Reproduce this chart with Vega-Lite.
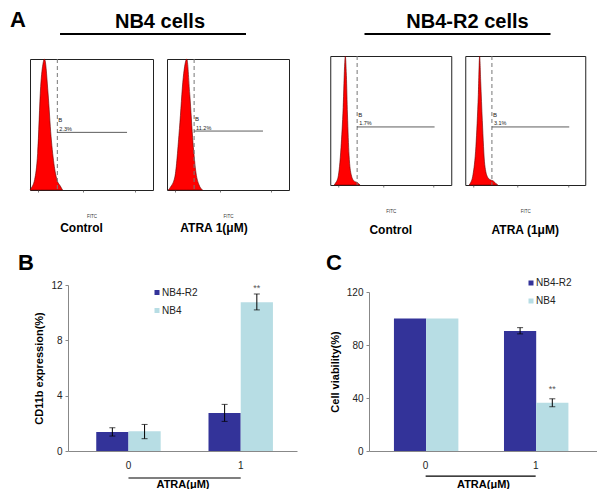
{
  "$schema": "https://vega.github.io/schema/vega-lite/v6.json",
  "padding": {"left": 10, "top": 9, "right": 0, "bottom": 0},
  "config": {
    "font": "Liberation Sans",
    "view": {"stroke": null},
    "legend": {"padding": 0},
    "axis": {"grid": false}
  },
  "datasets": {
    "groups": [{"group": "NB4 cells"}, {"group": "NB4-R2 cells"}],
    "hist": [
      {"panel": "H1", "fitc": -1.0, "count": 0}, {"panel": "H1", "fitc": -0.97, "count": 1}, {"panel": "H1", "fitc": -0.83, "count": 8}, {"panel": "H1", "fitc": -0.72, "count": 28}, {"panel": "H1", "fitc": -0.61, "count": 79}, {"panel": "H1", "fitc": -0.52, "count": 97}, {"panel": "H1", "fitc": -0.48, "count": 100}, {"panel": "H1", "fitc": -0.45, "count": 99}, {"panel": "H1", "fitc": -0.34, "count": 74}, {"panel": "H1", "fitc": -0.23, "count": 41}, {"panel": "H1", "fitc": -0.11, "count": 18}, {"panel": "H1", "fitc": 0.0, "count": 7}, {"panel": "H1", "fitc": 0.11, "count": 3}, {"panel": "H1", "fitc": 0.19, "count": 0},
      {"panel": "H2", "fitc": -0.95, "count": 0}, {"panel": "H2", "fitc": -0.88, "count": 2}, {"panel": "H2", "fitc": -0.71, "count": 10}, {"panel": "H2", "fitc": -0.54, "count": 47}, {"panel": "H2", "fitc": -0.40, "count": 86}, {"panel": "H2", "fitc": -0.27, "count": 100}, {"panel": "H2", "fitc": -0.16, "count": 73}, {"panel": "H2", "fitc": -0.04, "count": 36}, {"panel": "H2", "fitc": 0.07, "count": 13}, {"panel": "H2", "fitc": 0.18, "count": 4}, {"panel": "H2", "fitc": 0.31, "count": 0},
      {"panel": "H3", "fitc": -0.85, "count": 0}, {"panel": "H3", "fitc": -0.82, "count": 1}, {"panel": "H3", "fitc": -0.71, "count": 6}, {"panel": "H3", "fitc": -0.60, "count": 29}, {"panel": "H3", "fitc": -0.52, "count": 60}, {"panel": "H3", "fitc": -0.46, "count": 95}, {"panel": "H3", "fitc": -0.44, "count": 100}, {"panel": "H3", "fitc": -0.40, "count": 85}, {"panel": "H3", "fitc": -0.36, "count": 55}, {"panel": "H3", "fitc": -0.30, "count": 23}, {"panel": "H3", "fitc": -0.22, "count": 8}, {"panel": "H3", "fitc": -0.11, "count": 3}, {"panel": "H3", "fitc": 0.0, "count": 2}, {"panel": "H3", "fitc": 0.11, "count": 0},
      {"panel": "H4", "fitc": -0.85, "count": 0}, {"panel": "H4", "fitc": -0.82, "count": 1}, {"panel": "H4", "fitc": -0.71, "count": 8}, {"panel": "H4", "fitc": -0.60, "count": 30}, {"panel": "H4", "fitc": -0.51, "count": 70}, {"panel": "H4", "fitc": -0.46, "count": 100}, {"panel": "H4", "fitc": -0.42, "count": 80}, {"panel": "H4", "fitc": -0.36, "count": 50}, {"panel": "H4", "fitc": -0.27, "count": 16}, {"panel": "H4", "fitc": -0.16, "count": 6}, {"panel": "H4", "fitc": -0.06, "count": 4}, {"panel": "H4", "fitc": 0.06, "count": 3}, {"panel": "H4", "fitc": 0.16, "count": 1}, {"panel": "H4", "fitc": 0.22, "count": 0}
    ],
    "gates": [
      {"panel": "H1", "gate": "B", "start": 0, "end": 2.55, "level": 44, "pct": "2.3%"},
      {"panel": "H2", "gate": "B", "start": 0, "end": 2.54, "level": 45, "pct": "11.2%"},
      {"panel": "H3", "gate": "B", "start": 0, "end": 2.88, "level": 45, "pct": "1.7%"},
      {"panel": "H4", "gate": "B", "start": 0, "end": 2.9, "level": 45, "pct": "3.1%"}
    ],
    "cd11b": [
      {"atra": "0", "cell": "NB4-R2", "value": 1.37, "lo": 1.08, "hi": 1.68, "sig": ""},
      {"atra": "0", "cell": "NB4", "value": 1.42, "lo": 0.89, "hi": 1.92, "sig": ""},
      {"atra": "1", "cell": "NB4-R2", "value": 2.74, "lo": 2.14, "hi": 3.37, "sig": ""},
      {"atra": "1", "cell": "NB4", "value": 10.75, "lo": 10.2, "hi": 11.35, "sig": "**"}
    ],
    "viability": [
      {"atra": "0", "cell": "NB4-R2", "value": 100, "lo": null, "hi": null, "sig": ""},
      {"atra": "0", "cell": "NB4", "value": 100, "lo": null, "hi": null, "sig": ""},
      {"atra": "1", "cell": "NB4-R2", "value": 90.6, "lo": 88.4, "hi": 93.1, "sig": ""},
      {"atra": "1", "cell": "NB4", "value": 36.4, "lo": 33.4, "hi": 39.4, "sig": "**"}
    ],
    "treatment": [{"from": "0", "to": "1"}]
  },
  "spacing": 14,
  "resolve": {"scale": {"color": "independent"}, "legend": {"color": "independent"}},
  "vconcat": [
    {
      "title": {"text": "A", "anchor": "start", "frame": "group", "dx": -20, "offset": -37, "baseline": "alphabetic", "fontSize": 22, "fontWeight": "bold", "color": "black"},
      "spacing": 39,
      "hconcat": [
        {
          "spacing": 22,
          "vconcat": [
            {
              "width": 216, "height": 2,
              "data": {"name": "groups"},
              "transform": [{"filter": "datum.group === 'NB4 cells'"}],
              "title": {"text": "NB4 cells", "anchor": "middle", "baseline": "alphabetic", "dx": 22, "offset": -15, "fontSize": 20, "fontWeight": "bold", "color": "black"},
              "mark": {"type": "rule", "color": "black", "strokeWidth": 2},
              "encoding": {"x": {"datum": 0.139, "type": "quantitative", "scale": {"domain": [0, 1]}, "axis": null}, "x2": {"datum": 1}}
            },
            {
              "bounds": "flush",
              "spacing": 14,
              "hconcat": [
                {
                  "width": 123, "height": 131,
                  "view": {"stroke": "#222", "strokeWidth": 1},
                  "title": {"text": "Control", "orient": "bottom", "anchor": "middle", "dx": -10, "offset": 14.3, "baseline": "alphabetic", "fontSize": 12, "fontWeight": "bold", "color": "black"},
                  "layer": [
                    {"data": {"name": "hist"}, "transform": [{"filter": "datum.panel === 'H1'"}],
                     "mark": {"type": "area", "color": "#ff0000", "stroke": "#6b0000", "strokeWidth": 0.6, "interpolate": "monotone"},
                     "encoding": {
                       "x": {"field": "fitc", "type": "quantitative", "title": "FITC", "scale": {"domain": [-1, 3.05]},
                             "axis": {"values": [-0.69897, -0.52288, -0.39794, -0.30103, -0.22185, -0.1549, -0.09691, -0.04576, 0, 0.30103, 0.47712, 0.60206, 0.69897, 0.77815, 0.8451, 0.90309, 0.95424, 1, 1.30103, 1.47712, 1.60206, 1.69897, 1.77815, 1.8451, 1.90309, 1.95424, 2, 2.30103, 2.47712, 2.60206, 2.69897, 2.77815, 2.8451, 2.90309, 2.95424, 3],
                                      "labelExpr": "datum.value === 0 ? '10⁰' : datum.value === 1 ? '10¹' : datum.value === 2 ? '10²' : datum.value === 3 ? '10³' : ''",
                                      "domain": false, "tickSize": 2, "tickColor": "#555", "tickWidth": 0.8, "labelFontSize": 4.5, "labelColor": "#333", "labelPadding": 5.5, "labelFlush": false, "labelOverlap": false, "titleFontSize": 4.5, "titleFontWeight": "normal", "titleColor": "#333", "titlePadding": 11}},
                       "y": {"field": "count", "type": "quantitative", "scale": {"domain": [0, 100]}, "axis": null}
                     }},
                    {"data": {"name": "gates"}, "transform": [{"filter": "datum.panel === 'H1'"}],
                     "mark": {"type": "rule", "color": "#777", "strokeDash": [4, 3], "strokeWidth": 1},
                     "encoding": {"x": {"field": "start", "type": "quantitative", "title": "FITC"}}},
                    {"data": {"name": "gates"}, "transform": [{"filter": "datum.panel === 'H1'"}],
                     "mark": {"type": "rule", "color": "#333", "strokeWidth": 0.8},
                     "encoding": {"x": {"field": "start", "type": "quantitative", "title": "FITC"}, "x2": {"field": "end"}, "y": {"field": "level", "type": "quantitative", "axis": null}}},
                    {"data": {"name": "gates"}, "transform": [{"filter": "datum.panel === 'H1'"}],
                     "mark": {"type": "text", "align": "left", "baseline": "alphabetic", "dx": 1, "dy": -10, "fontSize": 6, "color": "#222"},
                     "encoding": {"x": {"field": "start", "type": "quantitative", "title": "FITC"}, "y": {"field": "level", "type": "quantitative", "axis": null}, "text": {"field": "gate"}}},
                    {"data": {"name": "gates"}, "transform": [{"filter": "datum.panel === 'H1'"}],
                     "mark": {"type": "text", "align": "left", "baseline": "alphabetic", "dx": 2, "dy": -1.5, "fontSize": 5.5, "color": "#222"},
                     "encoding": {"x": {"field": "start", "type": "quantitative", "title": "FITC"}, "y": {"field": "level", "type": "quantitative", "axis": null}, "text": {"field": "pct"}}}
                  ]
                },
                {
                  "width": 122, "height": 131,
                  "view": {"stroke": "#222", "strokeWidth": 1},
                  "title": {"text": "ATRA 1(μM)", "orient": "bottom", "anchor": "middle", "dx": -14, "offset": 14.3, "baseline": "alphabetic", "fontSize": 12, "fontWeight": "bold", "color": "black"},
                  "layer": [
                    {"data": {"name": "hist"}, "transform": [{"filter": "datum.panel === 'H2'"}],
                     "mark": {"type": "area", "color": "#ff0000", "stroke": "#6b0000", "strokeWidth": 0.6, "interpolate": "monotone"},
                     "encoding": {
                       "x": {"field": "fitc", "type": "quantitative", "title": "FITC", "scale": {"domain": [-1, 3.05]},
                             "axis": {"values": [-0.69897, -0.52288, -0.39794, -0.30103, -0.22185, -0.1549, -0.09691, -0.04576, 0, 0.30103, 0.47712, 0.60206, 0.69897, 0.77815, 0.8451, 0.90309, 0.95424, 1, 1.30103, 1.47712, 1.60206, 1.69897, 1.77815, 1.8451, 1.90309, 1.95424, 2, 2.30103, 2.47712, 2.60206, 2.69897, 2.77815, 2.8451, 2.90309, 2.95424, 3],
                                      "labelExpr": "datum.value === 0 ? '10⁰' : datum.value === 1 ? '10¹' : datum.value === 2 ? '10²' : datum.value === 3 ? '10³' : ''",
                                      "domain": false, "tickSize": 2, "tickColor": "#555", "tickWidth": 0.8, "labelFontSize": 4.5, "labelColor": "#333", "labelPadding": 5.5, "labelFlush": false, "labelOverlap": false, "titleFontSize": 4.5, "titleFontWeight": "normal", "titleColor": "#333", "titlePadding": 11}},
                       "y": {"field": "count", "type": "quantitative", "scale": {"domain": [0, 100]}, "axis": null}
                     }},
                    {"data": {"name": "gates"}, "transform": [{"filter": "datum.panel === 'H2'"}],
                     "mark": {"type": "rule", "color": "#777", "strokeDash": [4, 3], "strokeWidth": 1},
                     "encoding": {"x": {"field": "start", "type": "quantitative", "title": "FITC"}}},
                    {"data": {"name": "gates"}, "transform": [{"filter": "datum.panel === 'H2'"}],
                     "mark": {"type": "rule", "color": "#333", "strokeWidth": 0.8},
                     "encoding": {"x": {"field": "start", "type": "quantitative", "title": "FITC"}, "x2": {"field": "end"}, "y": {"field": "level", "type": "quantitative", "axis": null}}},
                    {"data": {"name": "gates"}, "transform": [{"filter": "datum.panel === 'H2'"}],
                     "mark": {"type": "text", "align": "left", "baseline": "alphabetic", "dx": 1, "dy": -10, "fontSize": 6, "color": "#222"},
                     "encoding": {"x": {"field": "start", "type": "quantitative", "title": "FITC"}, "y": {"field": "level", "type": "quantitative", "axis": null}, "text": {"field": "gate"}}},
                    {"data": {"name": "gates"}, "transform": [{"filter": "datum.panel === 'H2'"}],
                     "mark": {"type": "text", "align": "left", "baseline": "alphabetic", "dx": 2, "dy": -1.5, "fontSize": 5.5, "color": "#222"},
                     "encoding": {"x": {"field": "start", "type": "quantitative", "title": "FITC"}, "y": {"field": "level", "type": "quantitative", "axis": null}, "text": {"field": "pct"}}}
                  ]
                }
              ]
            }
          ]
        },
        {
          "spacing": 19,
          "center": true,
          "vconcat": [
            {
              "width": 186, "height": 2,
              "data": {"name": "groups"},
              "transform": [{"filter": "datum.group === 'NB4-R2 cells'"}],
              "title": {"text": "NB4-R2 cells", "anchor": "middle", "baseline": "alphabetic", "dx": 10, "offset": -15, "fontSize": 20, "fontWeight": "bold", "color": "black"},
              "mark": {"type": "rule", "color": "black", "strokeWidth": 2},
              "encoding": {"x": {"datum": 0, "type": "quantitative", "scale": {"domain": [0, 1]}, "axis": null}, "x2": {"datum": 1}}
            },
            {
              "bounds": "flush",
              "spacing": 14,
              "hconcat": [
                {
                  "width": 121, "height": 129,
                  "view": {"stroke": "#222", "strokeWidth": 1},
                  "title": {"text": "Control", "orient": "bottom", "anchor": "middle", "offset": 21.3, "baseline": "alphabetic", "fontSize": 12, "fontWeight": "bold", "color": "black"},
                  "layer": [
                    {"data": {"name": "hist"}, "transform": [{"filter": "datum.panel === 'H3'"}],
                     "mark": {"type": "area", "color": "#ff0000", "stroke": "#6b0000", "strokeWidth": 0.6, "interpolate": "monotone"},
                     "encoding": {
                       "x": {"field": "fitc", "type": "quantitative", "title": "FITC", "scale": {"domain": [-1, 3.05]},
                             "axis": {"values": [-0.69897, -0.52288, -0.39794, -0.30103, -0.22185, -0.1549, -0.09691, -0.04576, 0, 0.30103, 0.47712, 0.60206, 0.69897, 0.77815, 0.8451, 0.90309, 0.95424, 1, 1.30103, 1.47712, 1.60206, 1.69897, 1.77815, 1.8451, 1.90309, 1.95424, 2, 2.30103, 2.47712, 2.60206, 2.69897, 2.77815, 2.8451, 2.90309, 2.95424, 3],
                                      "labelExpr": "datum.value === 0 ? '10⁰' : datum.value === 1 ? '10¹' : datum.value === 2 ? '10²' : datum.value === 3 ? '10³' : ''",
                                      "domain": false, "tickSize": 2, "tickColor": "#555", "tickWidth": 0.8, "labelFontSize": 4.5, "labelColor": "#333", "labelPadding": 5.5, "labelFlush": false, "labelOverlap": false, "titleFontSize": 4.5, "titleFontWeight": "normal", "titleColor": "#333", "titlePadding": 11}},
                       "y": {"field": "count", "type": "quantitative", "scale": {"domain": [0, 100]}, "axis": null}
                     }},
                    {"data": {"name": "gates"}, "transform": [{"filter": "datum.panel === 'H3'"}],
                     "mark": {"type": "rule", "color": "#777", "strokeDash": [4, 3], "strokeWidth": 1},
                     "encoding": {"x": {"field": "start", "type": "quantitative", "title": "FITC"}}},
                    {"data": {"name": "gates"}, "transform": [{"filter": "datum.panel === 'H3'"}],
                     "mark": {"type": "rule", "color": "#333", "strokeWidth": 0.8},
                     "encoding": {"x": {"field": "start", "type": "quantitative", "title": "FITC"}, "x2": {"field": "end"}, "y": {"field": "level", "type": "quantitative", "axis": null}}},
                    {"data": {"name": "gates"}, "transform": [{"filter": "datum.panel === 'H3'"}],
                     "mark": {"type": "text", "align": "left", "baseline": "alphabetic", "dx": 1, "dy": -10, "fontSize": 6, "color": "#222"},
                     "encoding": {"x": {"field": "start", "type": "quantitative", "title": "FITC"}, "y": {"field": "level", "type": "quantitative", "axis": null}, "text": {"field": "gate"}}},
                    {"data": {"name": "gates"}, "transform": [{"filter": "datum.panel === 'H3'"}],
                     "mark": {"type": "text", "align": "left", "baseline": "alphabetic", "dx": 2, "dy": -1.5, "fontSize": 5.5, "color": "#222"},
                     "encoding": {"x": {"field": "start", "type": "quantitative", "title": "FITC"}, "y": {"field": "level", "type": "quantitative", "axis": null}, "text": {"field": "pct"}}}
                  ]
                },
                {
                  "width": 120, "height": 129,
                  "view": {"stroke": "#222", "strokeWidth": 1},
                  "title": {"text": "ATRA (1μM)", "orient": "bottom", "anchor": "middle", "offset": 21.3, "baseline": "alphabetic", "fontSize": 12, "fontWeight": "bold", "color": "black"},
                  "layer": [
                    {"data": {"name": "hist"}, "transform": [{"filter": "datum.panel === 'H4'"}],
                     "mark": {"type": "area", "color": "#ff0000", "stroke": "#6b0000", "strokeWidth": 0.6, "interpolate": "monotone"},
                     "encoding": {
                       "x": {"field": "fitc", "type": "quantitative", "title": "FITC", "scale": {"domain": [-1, 3.05]},
                             "axis": {"values": [-0.69897, -0.52288, -0.39794, -0.30103, -0.22185, -0.1549, -0.09691, -0.04576, 0, 0.30103, 0.47712, 0.60206, 0.69897, 0.77815, 0.8451, 0.90309, 0.95424, 1, 1.30103, 1.47712, 1.60206, 1.69897, 1.77815, 1.8451, 1.90309, 1.95424, 2, 2.30103, 2.47712, 2.60206, 2.69897, 2.77815, 2.8451, 2.90309, 2.95424, 3],
                                      "labelExpr": "datum.value === 0 ? '10⁰' : datum.value === 1 ? '10¹' : datum.value === 2 ? '10²' : datum.value === 3 ? '10³' : ''",
                                      "domain": false, "tickSize": 2, "tickColor": "#555", "tickWidth": 0.8, "labelFontSize": 4.5, "labelColor": "#333", "labelPadding": 5.5, "labelFlush": false, "labelOverlap": false, "titleFontSize": 4.5, "titleFontWeight": "normal", "titleColor": "#333", "titlePadding": 11}},
                       "y": {"field": "count", "type": "quantitative", "scale": {"domain": [0, 100]}, "axis": null}
                     }},
                    {"data": {"name": "gates"}, "transform": [{"filter": "datum.panel === 'H4'"}],
                     "mark": {"type": "rule", "color": "#777", "strokeDash": [4, 3], "strokeWidth": 1},
                     "encoding": {"x": {"field": "start", "type": "quantitative", "title": "FITC"}}},
                    {"data": {"name": "gates"}, "transform": [{"filter": "datum.panel === 'H4'"}],
                     "mark": {"type": "rule", "color": "#333", "strokeWidth": 0.8},
                     "encoding": {"x": {"field": "start", "type": "quantitative", "title": "FITC"}, "x2": {"field": "end"}, "y": {"field": "level", "type": "quantitative", "axis": null}}},
                    {"data": {"name": "gates"}, "transform": [{"filter": "datum.panel === 'H4'"}],
                     "mark": {"type": "text", "align": "left", "baseline": "alphabetic", "dx": 1, "dy": -10, "fontSize": 6, "color": "#222"},
                     "encoding": {"x": {"field": "start", "type": "quantitative", "title": "FITC"}, "y": {"field": "level", "type": "quantitative", "axis": null}, "text": {"field": "gate"}}},
                    {"data": {"name": "gates"}, "transform": [{"filter": "datum.panel === 'H4'"}],
                     "mark": {"type": "text", "align": "left", "baseline": "alphabetic", "dx": 2, "dy": -1.5, "fontSize": 5.5, "color": "#222"},
                     "encoding": {"x": {"field": "start", "type": "quantitative", "title": "FITC"}, "y": {"field": "level", "type": "quantitative", "axis": null}, "text": {"field": "pct"}}}
                  ]
                }
              ]
            }
          ]
        }
      ]
    },
    {
      "title": {"text": "B", "anchor": "start", "frame": "group", "dx": -12, "offset": -39.75, "baseline": "alphabetic", "fontSize": 22, "fontWeight": "bold", "color": "black"},
      "spacing": 29,
      "resolve": {"scale": {"color": "independent"}, "legend": {"color": "independent"}},
      "hconcat": [
        {
          "width": 267, "height": 166,
          "layer": [
            {"data": {"name": "cd11b"},
             "mark": {"type": "bar"},
             "encoding": {
               "x": {"field": "atra", "type": "nominal", "title": "ATRA(μM)", "scale": {"range": [38, 267], "paddingInner": 0.426, "paddingOuter": 0.233, "align": 0.54},
                     "axis": {"labelAngle": 0, "ticks": false, "tickSize": 0, "domainColor": "#888", "labelFontSize": 10, "labelColor": "#222", "labelPadding": 9, "titleFontSize": 11, "titleFontWeight": "bold", "titleColor": "black", "titlePadding": 8}},
               "xOffset": {"field": "cell", "type": "nominal", "sort": ["NB4-R2", "NB4"]},
               "y": {"field": "value", "type": "quantitative", "title": "CD11b expression(%)", "scale": {"domain": [0, 12]},
                     "axis": {"offset": -38, "values": [0, 2, 4, 6, 8, 10, 12], "labelOverlap": false, "domainColor": "#888", "tickColor": "#888", "tickSize": 3, "labelFontSize": 10, "labelColor": "#222", "labelPadding": 3, "titleFontSize": 11, "titleFontWeight": "bold", "titleColor": "black", "titlePadding": 6}},
               "color": {"field": "cell", "type": "nominal", "scale": {"domain": ["NB4-R2", "NB4"], "range": ["#333399", "#b7dde4"]},
                         "legend": {"orient": "none", "legendX": 122, "legendY": 2.5, "title": null, "symbolType": "square", "symbolSize": 25, "symbolStrokeWidth": 0, "labelFontSize": 10, "labelColor": "#222", "labelOffset": 0, "rowPadding": 8}}
             }},
            {"data": {"name": "cd11b"},
             "mark": {"type": "rule", "color": "black", "strokeWidth": 1},
             "encoding": {
               "x": {"field": "atra", "type": "nominal", "title": "ATRA(μM)"},
               "xOffset": {"field": "cell", "type": "nominal", "sort": ["NB4-R2", "NB4"]},
               "y": {"field": "lo", "type": "quantitative", "title": "CD11b expression(%)"},
               "y2": {"field": "hi"}
             }},
            {"data": {"name": "cd11b"},
             "mark": {"type": "tick", "color": "black", "size": 6, "thickness": 1, "orient": "horizontal"},
             "encoding": {
               "x": {"field": "atra", "type": "nominal", "title": "ATRA(μM)"},
               "xOffset": {"field": "cell", "type": "nominal", "sort": ["NB4-R2", "NB4"]},
               "y": {"field": "lo", "type": "quantitative", "title": "CD11b expression(%)"}
             }},
            {"data": {"name": "cd11b"},
             "mark": {"type": "tick", "color": "black", "size": 6, "thickness": 1, "orient": "horizontal"},
             "encoding": {
               "x": {"field": "atra", "type": "nominal", "title": "ATRA(μM)"},
               "xOffset": {"field": "cell", "type": "nominal", "sort": ["NB4-R2", "NB4"]},
               "y": {"field": "hi", "type": "quantitative", "title": "CD11b expression(%)"}
             }},
            {"data": {"name": "cd11b"},
             "mark": {"type": "text", "baseline": "alphabetic", "dy": -3, "fontSize": 9, "color": "#555"},
             "encoding": {
               "x": {"field": "atra", "type": "nominal", "title": "ATRA(μM)"},
               "xOffset": {"field": "cell", "type": "nominal", "sort": ["NB4-R2", "NB4"]},
               "y": {"field": "hi", "type": "quantitative", "title": "CD11b expression(%)"},
               "text": {"field": "sig"}
             }},
            {"data": {"name": "treatment"},
             "mark": {"type": "rule", "color": "black", "strokeWidth": 1.2},
             "encoding": {
               "x": {"field": "from", "type": "nominal", "title": "ATRA(μM)"},
               "x2": {"field": "to"},
               "y": {"datum": -1.95, "type": "quantitative"}
             }}
          ]
        },
        {
          "width": 228, "height": 166,
          "title": {"text": "C", "anchor": "start", "frame": "group", "dx": -43, "offset": -14, "baseline": "alphabetic", "fontSize": 22, "fontWeight": "bold", "color": "black"},
          "layer": [
            {"data": {"name": "viability"},
             "mark": {"type": "bar"},
             "encoding": {
               "x": {"field": "atra", "type": "nominal", "title": "ATRA(μM)", "scale": {"paddingInner": 0.424, "paddingOuter": 0.248, "align": 0.457},
                     "axis": {"labelAngle": 0, "ticks": false, "tickSize": 0, "domainColor": "#888", "labelFontSize": 10, "labelColor": "#222", "labelPadding": 9, "titleFontSize": 11, "titleFontWeight": "bold", "titleColor": "black", "titlePadding": 8}},
               "xOffset": {"field": "cell", "type": "nominal", "sort": ["NB4-R2", "NB4"]},
               "y": {"field": "value", "type": "quantitative", "title": "Cell viability(%)", "scale": {"domain": [0, 120], "range": [166, 7]},
                     "axis": {"values": [0, 20, 40, 60, 80, 100, 120], "labelOverlap": false, "domainColor": "#888", "tickColor": "#888", "tickSize": 3, "labelFontSize": 10, "labelColor": "#222", "labelPadding": 3, "titleFontSize": 11, "titleFontWeight": "bold", "titleColor": "black", "titlePadding": 6}},
               "color": {"field": "cell", "type": "nominal", "scale": {"domain": ["NB4-R2", "NB4"], "range": ["#333399", "#b7dde4"]},
                         "legend": {"orient": "none", "legendX": 157, "legendY": -7, "title": null, "symbolType": "square", "symbolSize": 25, "symbolStrokeWidth": 0, "labelFontSize": 10, "labelColor": "#222", "labelOffset": 0, "rowPadding": 8}}
             }},
            {"data": {"name": "viability"},
             "mark": {"type": "rule", "color": "black", "strokeWidth": 1},
             "encoding": {
               "x": {"field": "atra", "type": "nominal", "title": "ATRA(μM)"},
               "xOffset": {"field": "cell", "type": "nominal", "sort": ["NB4-R2", "NB4"]},
               "y": {"field": "lo", "type": "quantitative", "title": "Cell viability(%)"},
               "y2": {"field": "hi"}
             }},
            {"data": {"name": "viability"},
             "mark": {"type": "tick", "color": "black", "size": 6, "thickness": 1, "orient": "horizontal"},
             "encoding": {
               "x": {"field": "atra", "type": "nominal", "title": "ATRA(μM)"},
               "xOffset": {"field": "cell", "type": "nominal", "sort": ["NB4-R2", "NB4"]},
               "y": {"field": "lo", "type": "quantitative", "title": "Cell viability(%)"}
             }},
            {"data": {"name": "viability"},
             "mark": {"type": "tick", "color": "black", "size": 6, "thickness": 1, "orient": "horizontal"},
             "encoding": {
               "x": {"field": "atra", "type": "nominal", "title": "ATRA(μM)"},
               "xOffset": {"field": "cell", "type": "nominal", "sort": ["NB4-R2", "NB4"]},
               "y": {"field": "hi", "type": "quantitative", "title": "Cell viability(%)"}
             }},
            {"data": {"name": "viability"},
             "mark": {"type": "text", "baseline": "alphabetic", "dy": -7, "fontSize": 9, "color": "#555"},
             "encoding": {
               "x": {"field": "atra", "type": "nominal", "title": "ATRA(μM)"},
               "xOffset": {"field": "cell", "type": "nominal", "sort": ["NB4-R2", "NB4"]},
               "y": {"field": "hi", "type": "quantitative", "title": "Cell viability(%)"},
               "text": {"field": "sig"}
             }},
            {"data": {"name": "treatment"},
             "mark": {"type": "rule", "color": "black", "strokeWidth": 1.2},
             "encoding": {
               "x": {"field": "from", "type": "nominal", "title": "ATRA(μM)"},
               "x2": {"field": "to"},
               "y": {"datum": -19, "type": "quantitative"}
             }}
          ]
        }
      ]
    }
  ]
}
